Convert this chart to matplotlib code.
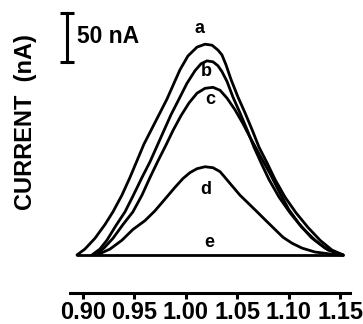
import matplotlib
matplotlib.use("Agg")
import matplotlib.pyplot as plt

plt.rcParams["font.family"] = ["Liberation Sans", "DejaVu Sans"]
plt.rcParams["font.weight"] = "bold"

# potential (V) / current (nA)
a_x = [0.8942, 0.9019, 0.9117, 0.9214, 0.9292, 0.9379, 0.9457, 0.9525, 0.9593, 0.9671,
       0.9749, 0.9817, 0.9876, 0.9944, 1.0021, 1.0109, 1.0187, 1.0255, 1.0313, 1.0352,
       1.0391, 1.0440, 1.0508, 1.0576, 1.0644, 1.0712, 1.0790, 1.0868, 1.0965, 1.1072,
       1.1189, 1.1306, 1.1422, 1.1529]
a_y = [0, 6, 17, 31, 44, 61, 79, 96, 113, 129,
       145, 159, 173, 189, 203, 212, 215, 214, 209, 204,
       194, 179, 161, 145, 128, 110, 94, 77, 59, 43,
       28, 15, 5, 0]

b_x = [0.9088, 0.9165, 0.9233, 0.9321, 0.9409, 0.9486, 0.9574, 0.9652, 0.9720, 0.9788,
       0.9856, 0.9934, 1.0011, 1.0090, 1.0148, 1.0206, 1.0265, 1.0313, 1.0352, 1.0401,
       1.0459, 1.0527, 1.0595, 1.0663, 1.0732, 1.0809, 1.0907, 1.1014, 1.1130, 1.1257,
       1.1383, 1.1529]
b_y = [0, 6, 15, 30, 44, 60, 79, 95, 111, 127,
       143, 159, 175, 188, 195, 198, 197, 193, 187, 177,
       161, 145, 128, 110, 94, 77, 59, 43, 28, 15,
       5, 0]

c_x = [0.9117, 0.9204, 0.9292, 0.9389, 0.9486, 0.9574, 0.9652, 0.9730, 0.9807, 0.9876,
       0.9953, 1.0031, 1.0109, 1.0187, 1.0265, 1.0333, 1.0401, 1.0479, 1.0556, 1.0625,
       1.0693, 1.0761, 1.0829, 1.0916, 1.1004, 1.1101, 1.1218, 1.1354, 1.1529]
c_y = [0, 7, 17, 31, 44, 61, 79, 96, 112, 127,
       142, 155, 165, 170, 171, 168, 160, 148, 134, 120,
       107, 94, 81, 63, 46, 32, 18, 7, 0]

d_x = [0.9136, 0.9263, 0.9379, 0.9486, 0.9603, 0.9700, 0.9798, 0.9895, 0.9973, 1.0041,
       1.0109, 1.0187, 1.0265, 1.0333, 1.0382, 1.0430, 1.0527, 1.0625, 1.0703, 1.0780,
       1.0858, 1.0946, 1.1033, 1.1130, 1.1257, 1.1403, 1.1529]
d_y = [0, 6, 15, 26, 35, 45, 57, 69, 78, 84,
       88, 90, 89, 85, 79, 73, 61, 51, 43, 35,
       27, 18, 12, 7, 3, 1, 0]

e_x = [0.8942, 1.1529]
e_y = [0, 0]

ticks = [0.90, 0.95, 1.00, 1.05, 1.10, 1.15]
tick_labels = ["0.90", "0.95", "1.00", "1.05", "1.10", "1.15"]

fig = plt.figure(figsize=(3.63, 3.24), dpi=100)
ax = fig.add_axes([0.1928, 0.0957, 0.7714, 0.8889])

for xs, ys in [(a_x, a_y), (b_x, b_y), (c_x, c_y), (d_x, d_y), (e_x, e_y)]:
    ax.plot(xs, ys, color="black", lw=2.0, solid_capstyle="round", solid_joinstyle="round")

# curve letters
ax.text(1.0138, 231, "a", ha="center", va="center", fontsize=13)
ax.text(1.0197, 187, "b", ha="center", va="center", fontsize=13)
ax.text(1.0236, 159, "c", ha="center", va="center", fontsize=13)
ax.text(1.0197, 67, "d", ha="center", va="center", fontsize=13)
ax.text(1.0226, 13, "e", ha="center", va="center", fontsize=13)

# 50 nA scale bar
ax.plot([0.8844, 0.8844], [197, 247], color="black", lw=2.2, marker="_",
        markersize=9.5, mew=2.2, clip_on=False)
ax.text(0.8942, 223, "50 nA", ha="left", va="center", fontsize=16.5)

ax.set_xlim(0.8874, 1.1597)
ax.set_ylim(-38.8, 255)
for s in ["top", "right", "left"]:
    ax.spines[s].set_visible(False)
ax.spines["bottom"].set_linewidth(2.2)
ax.set_yticks([])
ax.set_xticks(ticks)
ax.set_xticklabels(tick_labels, fontsize=17, fontweight="bold")
ax.tick_params(axis="x", direction="out", length=4.3, width=2.2, pad=1.5)

fig.text(0.0716, 0.623, "CURRENT  (nA)", rotation=90, ha="center", va="center",
         fontsize=17, fontweight="bold")

fig.savefig("out.png", dpi=100)
